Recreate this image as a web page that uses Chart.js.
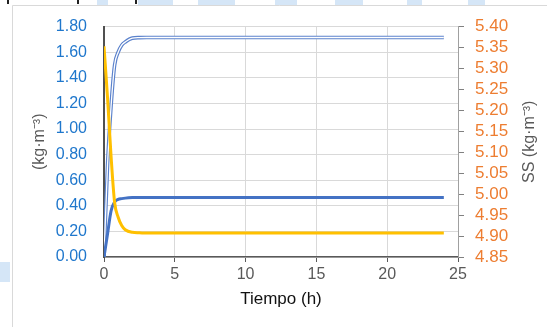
<!DOCTYPE html>
<html>
<head>
<meta charset="utf-8">
<script src="https://cdn.jsdelivr.net/npm/chart.js@4"></script>
<style>
  html, body { margin: 0; padding: 0; background: #fff; }
  canvas { display: block; }
</style>
</head>
<body>
<canvas id="grafica" width="547" height="327"></canvas>
<script>
// --- Datos ---
const tiempo = [0, 0.25, 0.5, 0.75, 1, 1.25, 1.5, 2, 2.5, 3, 4, 5, 6, 8, 10, 12, 14, 16, 18, 20, 22, 24];
// curva de doble línea (eje izquierdo)
const serieX = [0, 0.72, 1.18, 1.50, 1.60, 1.655, 1.68, 1.71, 1.714, 1.715, 1.715, 1.715, 1.715, 1.715, 1.715, 1.715, 1.715, 1.715, 1.715, 1.715, 1.715, 1.715];
// curva azul gruesa (eje izquierdo)
const serieP = [0, 0.18, 0.36, 0.43, 0.45, 0.456, 0.46, 0.464, 0.465, 0.465, 0.465, 0.465, 0.465, 0.465, 0.465, 0.465, 0.465, 0.465, 0.465, 0.465, 0.465, 0.465];
// SS (eje derecho)
const serieSS = [5.353, 5.23, 5.09, 4.98, 4.945, 4.925, 4.915, 4.909, 4.908, 4.907, 4.907, 4.907, 4.907, 4.907, 4.907, 4.907, 4.907, 4.907, 4.907, 4.907, 4.907, 4.907];

const ticksX = [0, 5, 10, 15, 20, 25];
const tituloDer = 'SS (kg·m⁻³)';

const puntos = (ys) => tiempo.map((t, i) => ({ x: t, y: ys[i] }));

// marco, restos de la captura y título del eje derecho (leído de abajo hacia arriba)
const marco = {
  id: 'marco',
  beforeDraw(chart) {
    const ctx = chart.ctx;
    ctx.save();
    ctx.fillStyle = '#fff';
    ctx.fillRect(0, 0, chart.width, chart.height);
    ctx.fillStyle = '#d5e6f7';
    [[97, 11], [138, 35], [198, 37], [275, 22], [335, 28], [407, 15], [468, 17]].forEach(([x, w]) => ctx.fillRect(x, 0, w, 5));
    ctx.fillRect(0, 262, 10, 20);
    ctx.fillStyle = '#222';
    [7, 77, 135].forEach(x => ctx.fillRect(x, 0, 2, 4));
    ctx.strokeStyle = '#d9d9d9';
    ctx.lineWidth = 1;
    ctx.beginPath();
    ctx.moveTo(12.5, chart.height);
    ctx.lineTo(12.5, 5.5);
    ctx.lineTo(chart.width, 5.5);
    ctx.stroke();
    ctx.restore();
  },
  afterDraw(chart) {
    const ctx = chart.ctx;
    const area = chart.chartArea;
    ctx.save();
    ctx.translate(530, (area.top + area.bottom) / 2);
    ctx.rotate(-Math.PI / 2);
    ctx.fillStyle = '#595959';
    ctx.font = '16px "Liberation Sans"';
    ctx.textAlign = 'center';
    ctx.textBaseline = 'middle';
    ctx.fillText(tituloDer, 0, 0);
    ctx.restore();
  }
};

const linea = { pointRadius: 0, fill: false, cubicInterpolationMode: 'monotone' };

new Chart(document.getElementById('grafica'), {
  type: 'line',
  data: {
    datasets: [
      { ...linea, data: puntos(serieSS), yAxisID: 'yDer', borderColor: '#ffc000', borderWidth: 3, order: 0 },
      { ...linea, data: puntos(serieP), yAxisID: 'y', borderColor: '#4472c4', borderWidth: 3, order: 1 },
      { ...linea, data: puntos(serieX), yAxisID: 'y', borderColor: '#ffffff', borderWidth: 1.3, order: 2 },
      { ...linea, data: puntos(serieX), yAxisID: 'y', borderColor: '#5b82cc', borderWidth: 3.6, order: 3 }
    ]
  },
  options: {
    responsive: false,
    animation: false,
    devicePixelRatio: 1,
    layout: { padding: { top: 24, left: 0, right: 0, bottom: 0 } },
    plugins: { legend: { display: false }, tooltip: { enabled: false } },
    scales: {
      x: {
        type: 'linear', min: 0, max: 25,
        afterBuildTicks: (s) => { s.ticks = ticksX.map(v => ({ value: v })); },
        afterFit: (s) => { s.height = 70; },
        grid: { color: '#d9d9d9', tickColor: '#595959', tickLength: 5 },
        border: { color: '#595959', width: 1.5 },
        ticks: { color: '#595959', padding: 3, font: { family: 'Liberation Sans', size: 16 } },
        title: { display: true, text: 'Tiempo (h)', color: '#111', padding: { top: 0, bottom: 17 }, font: { family: 'Liberation Sans', size: 17 } }
      },
      y: {
        position: 'left', min: 0, max: 1.8,
        afterFit: (s) => { s.width = 104; },
        grid: { color: '#d9d9d9', drawTicks: false },
        border: { color: '#505050', width: 2 },
        ticks: { stepSize: 0.2, autoSkip: false, color: '#1f77cc', padding: 17, callback: v => v.toFixed(2), font: { family: 'Liberation Sans', size: 16 } },
        title: { display: true, text: '(kg·m⁻³)', color: '#595959', padding: { top: 30.4, bottom: 0 }, font: { family: 'Liberation Sans', size: 16 } }
      },
      yDer: {
        position: 'right', min: 4.85, max: 5.4,
        afterFit: (s) => { s.width = 89; },
        grid: { drawOnChartArea: false, tickColor: '#808080', tickLength: 6 },
        border: { color: '#a0a0a0', width: 1 },
        ticks: { stepSize: 0.05, autoSkip: false, color: '#ed7d31', padding: 11, callback: v => v.toFixed(2), font: { family: 'Liberation Sans', size: 17 } }
      }
    }
  },
  plugins: [marco]
});
</script>
</body>
</html>
